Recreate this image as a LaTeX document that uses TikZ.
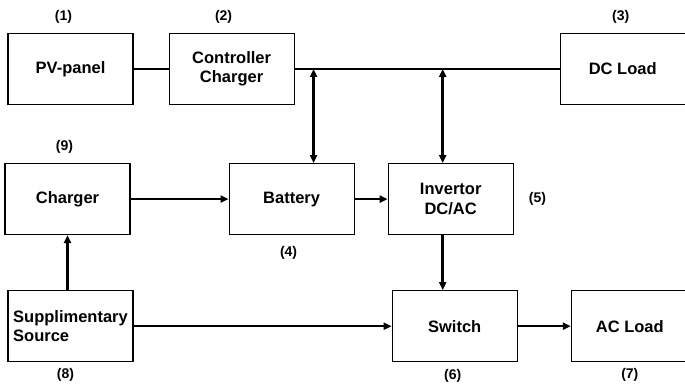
\documentclass[tikz,border=0pt]{standalone}
\usepackage{fontspec}
\setmainfont{Liberation Sans}
\usepackage{tikz}
\usetikzlibrary{arrows.meta, positioning}

\begin{document}
\begin{tikzpicture}[
    x=1pt, y=1pt,
    every node/.style={font=\bfseries\fontsize{16.5}{19.5}\selectfont},
    block/.style={
        rectangle,
        minimum width=125pt,
        minimum height=71pt,
        inner sep=2pt,
        align=center,
        line width=1.1pt,
        draw=black
    },
    tag/.style={
        inner sep=1pt,
        font=\bfseries\fontsize{14}{16}\selectfont
    },
    wire/.style={
        line width=2.5pt
    },
    arrow/.style={
        line width=2.5pt,
        -{Triangle[length=8pt,width=7pt]}
    },
    biarrow/.style={
        line width=2.5pt,
        {Triangle[length=8pt,width=7pt]}-{Triangle[length=8pt,width=7pt]}
    }
]
\useasboundingbox (0,0) rectangle (685,383);

% --- top row ---
\node (pv) [block] at (70.5,314) {PV-panel};
\node (ctrl) [block, right=35pt of pv] {Controller\\Charger};
\node (dcload) [block, right=265pt of ctrl] {DC Load};

% --- middle row ---
\node (charger) [block, below=58pt of pv, xshift=-3pt] {Charger};
\node (battery) [block, right=98pt of charger] {Battery};
\node (inv) [block, right=33pt of battery] {Invertor\\DC/AC};

% --- bottom row ---
\node (supp) [block, below=55pt of charger, xshift=3pt, align=left] {Supplimentary\\Source};
\node (switch) [block, below=55pt of inv, xshift=4pt] {Switch};
\node (acload) [block, right=53pt of switch, minimum width=117pt] {AC Load};

% --- numbers ---
\node (n1) [tag, above=8pt of pv, xshift=-7pt] {(1)};
\node (n2) [tag, above=8pt of ctrl, xshift=-8pt] {(2)};
\node (n3) [tag, above=8pt of dcload, xshift=-2pt] {(3)};
\node (n4) [tag, below=10pt of battery, xshift=-3pt] {(4)};
\node (n5) [tag, right=14pt of inv] {(5)};
\node (n6) [tag, below=6pt of switch, xshift=-2pt] {(6)};
\node (n7) [tag, below=5pt of acload, xshift=0pt] {(7)};
\node (n8) [tag, below=5pt of supp, xshift=-5pt] {(8)};
\node (n9) [tag, above=8pt of charger, xshift=-3pt] {(9)};

% --- connectors ---
\draw [wire] (pv) -- (ctrl);
\draw [wire] (ctrl) -- (dcload);
\draw [biarrow] ([xshift=22pt]battery.north) -- ([xshift=22pt]battery.north |- ctrl.east);
\draw [biarrow] ([xshift=-8pt]inv.north) -- ([xshift=-8pt]inv.north |- ctrl.east);
\draw [arrow] (charger) -- (battery);
\draw [arrow] (battery) -- (inv);
\draw [arrow] ([xshift=-8pt]inv.south) -- ([xshift=-8pt]inv.south |- switch.north);
\draw [arrow] ([xshift=-3pt]supp.north) -- (charger.south);
\draw [arrow] (supp) -- (switch);
\draw [arrow] (switch) -- (acload);

\end{tikzpicture}
\end{document}
